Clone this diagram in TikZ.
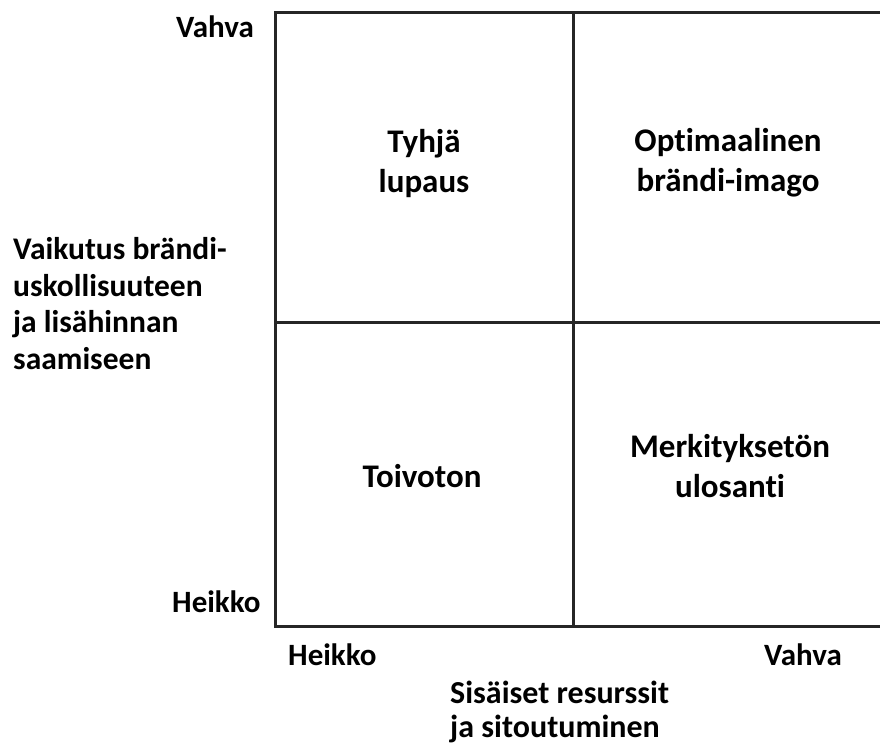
\documentclass[tikz,border=0pt]{standalone}
\usepackage{fontspec}
\setmainfont{Carlito}[Ligatures=NoCommon]
\begin{document}
\begin{tikzpicture}[x=1pt,y=-1pt,
  gridline/.style={line width=3pt,color=black!85},
  axislbl/.style={inner sep=0pt,anchor=base west,align=left,font=\bfseries\fontsize{31}{37}\selectfont},
  quad/.style={inner sep=0pt,anchor=base,align=center,font=\bfseries\fontsize{33}{40}\selectfont}]
\useasboundingbox[fill=white] (0,0) rectangle (880,745);
% grid corners
\coordinate (tl) at (275,12.5);
\coordinate (tr) at (880,12.5);
\coordinate (bl) at (275,626);
\coordinate (br) at (880,626);
\coordinate (tm) at (573,12.5);
\coordinate (bm) at (573,626);
\coordinate (ml) at (275,322);
\coordinate (mr) at (880,322);
\draw[gridline] (tr) -- (tl) -- (bl) -- (br);
\draw[gridline] (tm) -- (bm);
\draw[gridline] (ml) -- (mr);
% axis labels
\node[axislbl] (ytop) at (176,37) {Vahva};
\node[axislbl] (ybot) at (172,612) {Heikko};
\node[axislbl] (xleft) at (288,665) {Heikko};
\node[axislbl] (xright) at (764,665) {Vahva};
\node[axislbl,font=\bfseries\fontsize{31.5}{36.5}\selectfont] (ytitle) at (13,369) {Vaikutus brändi-\\uskollisuuteen\\ja lisähinnan\\saamiseen};
\node[axislbl,font=\bfseries\fontsize{32}{34}\selectfont] (xtitle) at (450,737) {Sisäiset resurssit\\ja sitoutuminen};
% quadrants
\node[quad] (q1) at (424,192) {Tyhjä\\lupaus};
\node[quad] (q2) at (728,191) {Optimaalinen\\brändi-imago};
\node[quad] (q3) at (422,487) {Toivoton};
\node[quad] (q4) at (730,497) {Merkityksetön\\ulosanti};
\end{tikzpicture}
\end{document}
